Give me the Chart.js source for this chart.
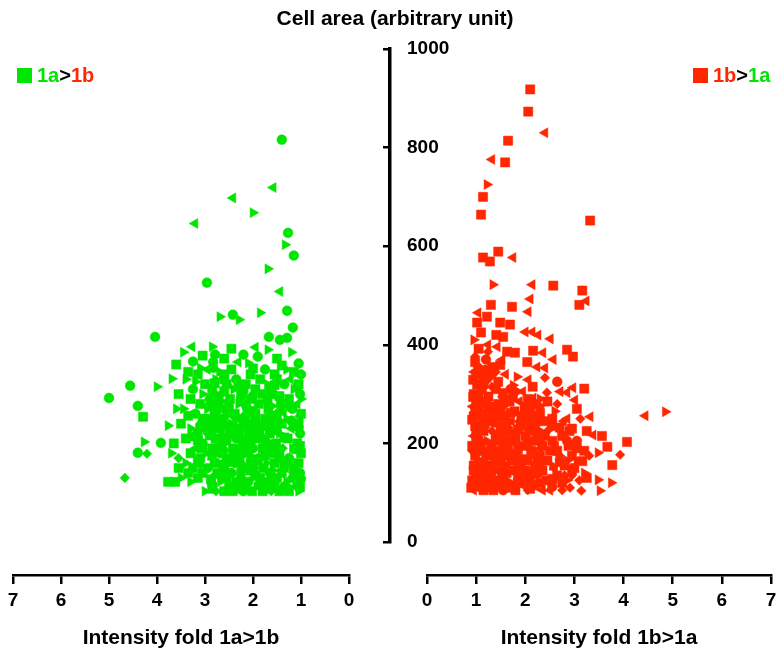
<!DOCTYPE html>
<html>
<head>
<meta charset="utf-8">
<script src="https://cdn.jsdelivr.net/npm/chart.js@4.4.1/dist/chart.umd.min.js"></script>
<style>
html,body{margin:0;padding:0;background:#fff;}
#wrap{position:relative;width:782px;height:657px;overflow:hidden;font-family:'Liberation Sans',Arial,Helvetica,sans-serif;font-weight:bold;color:#000;}
canvas{position:absolute;top:0;}
#cL{left:0;} #cR{left:391px;} #cY{left:0;}
#title{position:absolute;top:6px;left:0;width:790px;text-align:center;font-size:21px;line-height:24px;}
.leg{position:absolute;top:63px;font-size:20px;line-height:24px;display:flex;align-items:center;}
.sq{display:inline-block;width:15px;height:15px;margin-right:5px;}
</style>
</head>
<body>
<div id="wrap">
  <canvas id="cL" width="391" height="657"></canvas>
  <canvas id="cR" width="391" height="657"></canvas>
  <canvas id="cY" width="782" height="657"></canvas>
  <div id="title">Cell area (arbitrary unit)</div>
  <div class="leg" style="left:17px;"><span class="sq" style="background:#00e600"></span><span style="color:#00e600">1a</span><span>&gt;</span><span style="color:#ff2600">1b</span></div>
  <div class="leg" style="left:693px;"><span class="sq" style="background:#ff2600"></span><span style="color:#ff2600">1b</span><span>&gt;</span><span style="color:#00e600">1a</span></div>
</div>
<script>
// ---------- axis ticks / labels ----------
const foldTicks = [0, 1, 2, 3, 4, 5, 6, 7];
const areaTicks = [0, 200, 400, 600, 800, 1000];
const titleLeft = 'Intensity fold 1a>1b';
const titleRight = 'Intensity fold 1b>1a';

// ---------- left panel (1a>1b), [fold, area] ----------
const greenCircle = [[1.40,816],[1.27,627],[1.15,581],[2.96,526],[1.29,469],[2.42,461],[1.17,435],[4.04,416],[1.67,416],[1.44,410],[1.29,414],[2.79,380],[2.83,365],[2.83,353],[1.90,376],[4.56,317],[5.00,292],[4.40,276],[3.92,201],[4.40,181],
 [2.20,103],[1.35,112],[2.10,122],[1.02,140],[1.65,140],[2.45,140],[2.95,150],[2.38,160],[1.25,170],[1.88,170],[2.68,180],[2.00,190],[1.70,200],[3.05,200],[2.35,210],[1.02,220],[1.85,230],[1.58,240],[2.62,250],[3.20,260],[1.18,270],[2.12,270],[2.90,290],[1.02,300],[1.58,300],[3.25,310],[1.35,320],[2.35,330],[1.00,340],[1.75,350],
 [2.85,117],[2.25,127],[2.25,157],[2.62,186],[2.55,206],[1.85,216],[2.85,226],[3.10,236],[1.20,246],[2.15,256],[2.75,266],[1.70,286],[2.00,296],[2.20,306],[1.00,128],[1.05,232],[1.08,315],
 [2.20,380],[1.05,362],[3.25,366],[1.95,137],[2.50,162],[2.20,192],[2.65,212],[2.40,234],[2.35,252],[2.15,278],[2.30,320]];
const greenSquare = [[4.29,254],
 [1.25,103],[1.45,103],[1.80,103],[2.02,103],[2.42,103],[2.60,103],[1.55,112],[2.50,112],[1.02,112],[1.08,122],[1.70,122],[2.35,122],[3.62,122],[3.77,122],[1.50,130],[1.85,130],[2.55,130],[3.15,130],[1.40,140],[2.25,140],[2.75,140],[3.05,140],[1.15,150],[1.78,150],[2.15,150],[3.25,150],[1.05,160],[1.55,160],[2.05,160],[2.80,160],[1.45,170],[2.28,170],[2.55,170],[3.10,170],[1.00,180],[1.62,180],[2.12,180],[3.30,180],[1.80,190],[2.42,190],[2.85,190],[1.08,200],[1.52,200],[2.22,200],[1.28,210],[1.92,210],[2.78,210],[3.40,210],[1.65,220],[2.10,220],[2.50,220],[3.15,220],[2.30,230],[2.70,230],[1.05,240],[1.40,240],[2.02,240],[2.88,240],[3.50,240],[1.75,250],[2.20,250],[3.05,250],[1.00,260],[1.95,260],[2.38,260],[2.80,260],[1.68,270],[2.55,270],[1.42,280],[1.88,280],[2.72,280],[3.10,280],[1.25,290],[2.05,290],[2.48,290],[3.30,290],[1.80,300],[2.25,300],[1.95,310],[2.85,310],[1.05,320],[2.15,320],[2.55,320],[3.00,320],[1.85,330],[1.55,340],[2.05,340],[2.60,340],[3.15,340],[2.45,350],
 [1.85,117],[2.15,117],[1.55,127],[2.88,127],[2.05,145],[2.60,145],[1.35,157],[2.62,157],[1.75,175],[2.40,175],[2.85,175],[1.45,186],[2.25,186],[2.05,196],[2.70,196],[1.75,206],[3.15,206],[2.30,216],[2.90,216],[1.50,226],[2.00,226],[1.75,236],[2.20,236],[2.58,236],[1.95,246],[2.75,246],[1.65,256],[3.35,256],[1.40,266],[2.00,266],[2.50,276],[2.25,286],[1.45,296],[2.80,296],[1.65,306],[2.60,306],[1.02,195],
 [3.05,378],[2.60,372],[1.50,372],[2.45,392],[3.60,360],[2.00,352],[1.40,358],[3.35,345],[1.15,345],[3.55,300],[3.65,200],[3.55,150],
 [1.30,108],[1.70,108],[2.35,108],[2.85,108],[1.15,135],[2.65,135],[3.35,140],[1.25,163],[1.90,165],[3.15,163],[1.10,188],[1.60,190],[3.05,190],[1.35,212],[2.05,214],[3.25,214],[1.15,238],[1.65,232],[3.00,232],[1.50,252],[2.95,250],[1.30,275],[2.85,280],[1.55,318],[2.80,322],[1.50,330],[2.60,330]];
const greenTriRight = [[2.00,668],[1.33,603],[1.69,554],[1.85,465],[2.69,457],[2.29,451],[2.85,396],[1.69,390],[2.10,363],[3.10,353],[4.00,315],[3.69,331],[3.77,236],[4.27,203],
 [1.05,103],[3.00,103],[1.92,112],[1.30,122],[2.68,122],[3.30,122],[2.00,130],[3.50,130],[2.62,150],[1.72,160],[3.40,160],[2.98,180],[1.18,190],[2.60,200],[1.45,220],[3.30,230],[2.45,240],[1.30,250],[2.95,270],[3.45,270],[2.30,280],[3.05,300],[1.15,310],[2.40,310],[1.70,320],[2.78,330],[3.40,330],[1.30,350],
 [1.58,145],[2.05,175],[1.55,196],[2.15,206],[2.55,256],[1.60,276],[2.65,286],[1.00,290],
 [3.45,385],[1.20,385],[2.70,345],[3.60,270],[3.70,180],[3.20,325]];
const greenTriLeft = [[1.58,719],[2.42,698],[3.21,646],[1.44,508],[3.27,396],[2.31,365],
 [1.12,112],[1.32,150],[3.20,190],[1.20,230],[1.08,280],[1.22,330],[2.95,350],[1.02,255],
 [1.95,395]];
const greenDiamond = [[4.21,179],[4.67,130],
 [1.62,103],[2.77,103],[2.30,112],[1.20,130],[2.85,130],[1.95,150],[3.55,170],[1.38,190],[2.95,220],[1.52,260],[2.65,300],[3.10,157],[2.45,226],[2.95,276]];

// ---------- right panel (1b>1a), [fold, area] ----------
const redSquare = [[2.10,918],[2.06,873],[1.65,814],[1.59,770],[1.14,700],[1.10,664],[3.32,652],[1.45,589],[1.14,577],[1.28,569],[2.57,520],[3.16,510],[3.10,481],[1.30,481],[1.73,477],[1.22,457],[1.02,445],[1.49,445],[1.69,441],[1.41,420],[1.55,416],[2.16,388],[2.85,390],[2.97,376],[1.63,386],[1.79,384],[2.04,365],[1.32,355],[1.49,359],[0.94,329],[1.02,319],[3.20,311],[0.94,294],[3.56,215],[3.67,193],[4.07,203],[3.16,164],[3.77,156],
 [1.15,105],[1.35,105],[1.80,105],[1.05,115],[1.45,115],[1.70,115],[2.20,115],[0.92,125],[1.18,125],[1.40,125],[2.10,125],[2.42,125],[1.30,135],[1.52,135],[1.85,135],[2.65,135],[1.12,145],[1.75,145],[2.00,145],[2.35,145],[2.95,145],[0.95,155],[1.25,155],[2.20,155],[2.80,155],[1.38,165],[1.72,165],[2.05,165],[2.45,165],[0.98,175],[1.20,175],[1.55,175],[2.30,175],[2.95,175],[1.45,185],[2.12,185],[2.50,185],[3.20,185],[0.92,195],[1.30,195],[1.95,195],[2.35,195],[2.88,195],[1.05,205],[1.80,205],[2.18,205],[2.55,205],[1.40,215],[2.00,215],[2.40,215],[2.75,215],[1.15,225],[1.65,225],[2.08,225],[2.90,225],[0.98,235],[1.50,235],[1.90,235],[2.20,235],[1.30,245],[2.05,245],[2.38,245],[0.95,255],[1.45,255],[1.60,255],[1.92,255],[2.22,255],[1.05,265],[1.25,265],[1.78,265],[2.10,265],[1.38,275],[2.00,275],[1.12,285],[1.68,285],[2.45,285],
 [1.30,120],[1.85,120],[2.30,120],[1.18,140],[1.62,140],[2.10,140],[1.15,160],[1.50,160],[1.85,160],[1.35,180],[1.70,180],[2.15,180],[1.10,200],[1.65,200],[2.05,200],[1.00,220],[1.80,220],[2.25,220],[1.18,240],[1.62,240],[2.05,240],[1.10,260],[1.35,260],[2.00,260],[1.00,280],[1.45,280],[2.15,280],[1.05,295],[1.25,295],[1.75,295],[1.12,310],[1.40,310],[1.00,340],[1.30,340],[2.95,230],[3.00,150],
 [0.90,110],[1.65,110],[2.10,108],[1.00,122],[1.55,122],[2.00,130],[2.55,128],[0.95,145],[1.30,148],[1.90,140],[2.20,142],[1.05,158],[1.95,168],[2.70,162],[1.25,182],[1.85,188],[2.65,185],[1.00,208],[1.40,205],[1.70,212],[2.30,210],[1.08,228],[1.50,222],[1.85,228],[2.70,232],[0.92,248],[1.40,242],[2.20,250],[2.55,250],[1.18,258],[1.70,262],[2.30,262],[0.98,268],[1.50,270],[1.20,282],[1.60,288],[2.05,290],[0.95,300],[1.55,302],[1.15,320],[1.45,325],[2.15,315],[1.15,335],[0.98,365],[1.05,392],[1.10,425],[2.75,120],[3.25,130],[3.05,190],[3.25,225],[3.05,270]];
const redTriLeft = [[2.40,830],[1.32,776],[1.75,577],[2.14,522],[2.10,493],[3.24,489],[2.06,467],[1.04,465],[2.00,426],[2.14,426],[2.26,420],[2.51,412],[1.24,400],[1.43,396],[2.36,384],[2.57,370],[1.53,370],[2.24,355],[2.40,353],[2.06,329],[2.97,313],[2.85,303],[3.01,288],[2.16,292],[2.71,305],[4.44,256],[3.32,254],[3.38,217],[1.02,110],
 [0.95,105],[2.35,105],[1.95,115],[2.62,195],[0.95,215],[1.72,245],[2.78,245],[0.93,275],[1.88,285],[1.60,340],
 [2.50,105],[2.60,148],[2.30,190],[1.88,245],[1.95,305],[0.96,345],[2.85,250]];
const redTriRight = [[1.22,725],[1.34,522],[1.83,335],[1.85,305],[4.85,264],[3.48,181],[3.48,126],[3.75,120],[3.52,104],
 [1.62,125],[2.85,125],[1.42,145],[2.55,155],[1.08,165],[3.05,165],[1.85,175],[1.22,205],[2.30,225],[1.10,245],[2.60,265],[1.55,275],[3.20,140],
 [1.25,108],[1.40,165],[2.05,208],[1.95,272],[2.30,290],[1.75,318],[2.85,165],[0.95,410]];
const redDiamond = [[0.98,376],[1.24,386],[2.40,333],[1.24,329],[2.44,303],[1.32,315],[1.53,294],[3.12,250],[3.93,177],[3.14,104],[2.91,110],
 [2.05,105],[2.75,105],[3.10,125],[2.25,135],[1.60,155],[2.70,175],[1.68,185],[1.32,225],[2.30,275],[2.80,135],
 [0.92,185],[2.45,225],[1.40,345],[2.95,135],[3.30,175],[2.65,280]];
const redCircle = [[1.04,353],[1.18,349],[2.65,325],[2.55,112],
 [1.55,105],[1.25,115],[1.00,135],[1.90,155],[1.10,185],[1.55,205],[3.05,205],[2.55,235],[2.30,160],[1.70,310],
 [1.55,145],[2.25,170],[1.55,190],[2.85,205],[1.20,370]];

// ---------- styling ----------
const GREEN = '#00e600';
const RED = '#ff2600';
const FONT = "'Liberation Sans', Arial, Helvetica, sans-serif";
const shapes = {
  circle:  {pointStyle:'circle',  radius:4.9, rotation:0},
  square:  {pointStyle:'rect',    radius:6.5, rotation:0},
  triR:    {pointStyle:'triangle',radius:5.8, rotation:90},
  triL:    {pointStyle:'triangle',radius:5.8, rotation:-90},
  diamond: {pointStyle:'rectRot', radius:4.8, rotation:0}
};
function ds(arr, shape, color) {
  const s = shapes[shape];
  return {
    data: arr.map(p => ({x: p[0], y: p[1]})),
    pointStyle: s.pointStyle, pointRadius: s.radius, pointRotation: s.rotation,
    backgroundColor: color, borderColor: color, borderWidth: 0.5, showLine: false
  };
}
function xScale(reverse, title) {
  return {
    type: 'linear', reverse: reverse, min: 0, max: 7,
    afterBuildTicks: s => { s.ticks = foldTicks.map(v => ({value: v})); },
    afterFit: s => { s.height = 82; },
    ticks: {color:'#000', font:{family:FONT, size:19, weight:'bold'}, padding:5, maxRotation:0, autoSkip:false, callback: v => String(v)},
    grid: {drawOnChartArea:false, drawTicks:true, tickLength:9, color:'#000', lineWidth:2.5},
    border: {display:true, color:'#000', width:2.5},
    title: {display:true, text:title, color:'#000', font:{family:FONT, size:21, weight:'bold'}, padding:{top:0, bottom:6}}
  };
}
const yHidden = {type:'linear', display:false, min:-67, max:1000};
const common = {responsive:false, animation:false, events:[], plugins:{legend:{display:false}, tooltip:{enabled:false}}};

new Chart(document.getElementById('cL'), {
  type: 'scatter',
  data: {datasets: [
    ds(greenSquare,'square',GREEN), ds(greenCircle,'circle',GREEN), ds(greenTriRight,'triR',GREEN),
    ds(greenTriLeft,'triL',GREEN), ds(greenDiamond,'diamond',GREEN)
  ]},
  options: Object.assign({}, common, {
    layout: {padding: {left:13, right:42, top:49, bottom:0}},
    scales: {x: xScale(true, titleLeft), y: yHidden}
  })
});

new Chart(document.getElementById('cR'), {
  type: 'scatter',
  data: {datasets: [
    ds(redSquare,'square',RED), ds(redCircle,'circle',RED), ds(redTriRight,'triR',RED),
    ds(redTriLeft,'triL',RED), ds(redDiamond,'diamond',RED)
  ]},
  options: Object.assign({}, common, {
    layout: {padding: {left:36, right:11, top:49, bottom:0}},
    scales: {x: xScale(false, titleRight), y: yHidden}
  })
});

new Chart(document.getElementById('cY'), {
  type: 'scatter',
  data: {datasets: []},
  options: Object.assign({}, common, {
    layout: {padding: {left:382, right:0, top:49, bottom:115}},
    scales: {
      x: {type:'linear', display:false, min:0, max:1},
      y: {
        type:'linear', position:'left', min:0, max:1000,
        afterBuildTicks: s => { s.ticks = areaTicks.map(v => ({value: v})); },
        afterFit: s => { s.width = 8; },
        ticks: {mirror:true, padding:17, color:'#000', font:{family:FONT, size:19, weight:'bold'}, callback: v => String(v)},
        grid: {drawOnChartArea:false, drawTicks:true, tickLength:7, color:'#000', lineWidth:2.5},
        border: {display:true, color:'#000', width:3.5}
      }
    }
  })
});
</script>
</body>
</html>
